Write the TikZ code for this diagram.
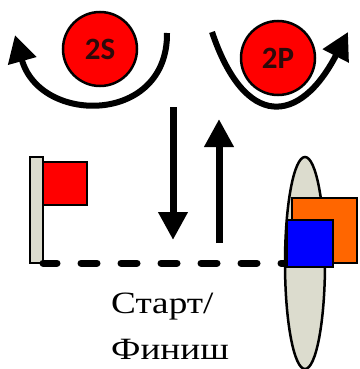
\documentclass[tikz,border=0pt]{standalone}
\usepackage{fontspec}
\usepackage{tikz}
\usetikzlibrary{shapes.geometric, arrows.meta, positioning}
\newfontfamily\ballfont{Carlito}
\newfontfamily\labelfont[FakeStretch=1.2]{Liberation Serif}
\definecolor{ballred}{RGB}{255,0,0}
\definecolor{balltext}{RGB}{45,10,10}
\definecolor{polegray}{RGB}{220,220,206}
\definecolor{sailorange}{RGB}{255,102,0}
\definecolor{sailblue}{RGB}{0,0,255}
\tikzset{
  ballnode/.style={circle,draw=black,line width=2.5pt,fill=ballred,minimum size=74pt,inner sep=0pt,
                   text=balltext,font=\ballfont\bfseries\fontsize{31}{31}\selectfont},
  polenode/.style={rectangle,draw=black,line width=2.5pt,fill=polegray,minimum width=13pt,minimum height=106pt,inner sep=0pt},
  flagnode/.style={rectangle,draw=black,line width=2.5pt,fill=ballred,minimum width=44pt,minimum height=43pt,inner sep=0pt},
  hullnode/.style={ellipse,draw=black,line width=2.5pt,fill=polegray,minimum width=40pt,minimum height=212pt,inner sep=0pt},
  sailnode/.style={rectangle,draw=black,line width=2.5pt,inner sep=0pt},
  labeltext/.style={align=left,inner sep=0pt,font=\labelfont\fontsize{31}{46}\selectfont},
  curvearr/.style={-{Triangle[length=27pt,width=28pt]},line width=6pt},
  vertarr/.style={-{Triangle[length=28pt,width=28pt]},line width=7pt},
  dashline/.style={line width=7pt,dash pattern=on 16pt off 24pt,dash phase=2pt,line cap=round}
}
\begin{document}
\begin{tikzpicture}[x=1pt,y=-1pt]
  \useasboundingbox (0,0) rectangle (359,369);

  \node[ballnode] (s2) at (100,49) {2S};
  \node[ballnode] (p2) at (278,58) {2P};

  \coordinate (s2from) at (167,33);
  \coordinate (s2to) at (15,35);
  \coordinate (p2from) at (212,32);
  \coordinate (p2to) at (348,32);
  \draw[curvearr] (s2from) .. controls (168,125) and (40,125) .. (s2to);
  \draw[curvearr] (p2from) .. controls (245,130) and (300,125) .. (p2to);

  \coordinate (downtop) at (173,107);
  \coordinate (downend) at (173,240);
  \coordinate (upbot) at (219,243);
  \coordinate (uptop) at (219,119);
  \draw[vertarr] (downtop) -- (downend);
  \draw[vertarr] (upbot) -- (uptop);

  \node[polenode] (pole) at (36.5,210) {};
  \node[flagnode] (flag) at (65,183.5) {};

  \node[hullnode] (hull) at (305,263) {};
  \coordinate (linestart) at (43,263);
  \coordinate (lineend) at (288,263);
  \draw[dashline] (linestart) -- (lineend);
  \node[sailnode,fill=sailorange,minimum width=65pt,minimum height=65pt] (bigsail) at (324.5,230.5) {};
  \node[sailnode,fill=sailblue,minimum width=46pt,minimum height=47pt] (smallsail) at (310,243.5) {};

  \node[labeltext,anchor=base west] (start) at (111,359) {Старт/\\Финиш};
\end{tikzpicture}
\end{document}
